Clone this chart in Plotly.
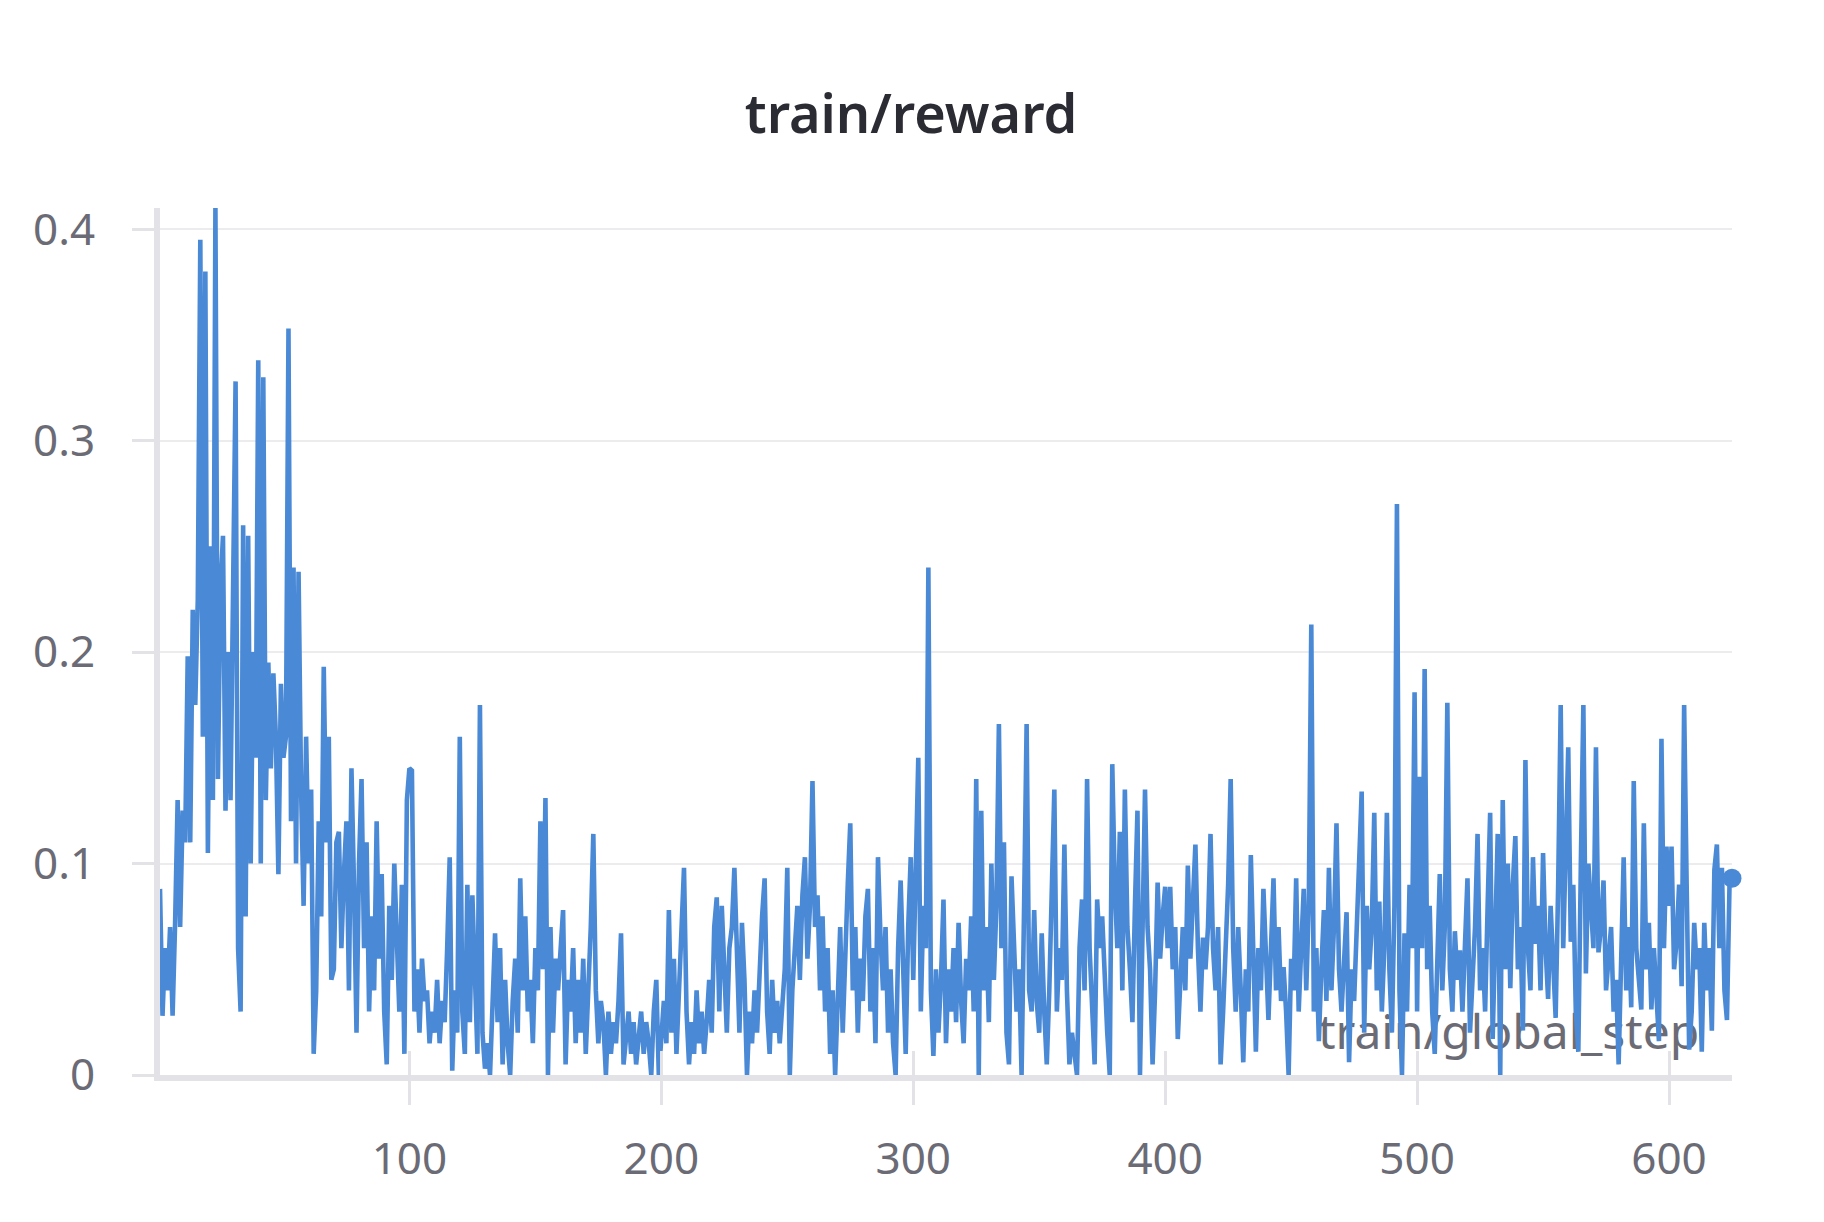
import plotly.graph_objects as go

REWARD_001_125 = [
    88, 28, 60, 40, 70, 28, 72, 130, 70, 125, 110, 198, 110, 220, 175, 225, 395, 160, 380, 105, 250, 130, 410, 140, 230,
    255, 125, 200, 130, 250, 328, 60, 30, 260, 75, 255, 100, 200, 150, 338, 100, 330, 130, 195, 145, 190, 160, 95, 185, 150,
    160, 353, 120, 240, 100, 238, 135, 80, 160, 100, 135, 10, 40, 120, 75, 193, 110, 160, 45, 50, 110, 115, 60, 95, 120,
    40, 145, 90, 20, 100, 140, 60, 110, 30, 75, 40, 120, 55, 95, 30, 5, 80, 45, 100, 60, 30, 90, 10, 130, 145,
    144, 30, 50, 20, 55, 35, 40, 15, 30, 20, 45, 15, 35, 25, 60, 103, 2, 40, 20, 160, 30, 10, 90, 25, 85,
]
REWARD_126_250 = [
    40, 10, 175, 20, 3, 15, 0, 40, 67, 25, 60, 5, 45, 15, 0, 35, 55, 20, 93, 40, 75, 30, 45, 15, 60,
    40, 120, 50, 131, 0, 70, 20, 55, 40, 60, 78, 5, 45, 30, 60, 15, 45, 20, 55, 10, 35, 70, 114, 40, 15,
    35, 25, 0, 30, 10, 25, 15, 35, 67, 5, 20, 30, 10, 25, 5, 20, 30, 10, 25, 15, 0, 30, 45, 0, 20,
    35, 15, 78, 20, 55, 10, 40, 60, 98, 30, 5, 25, 10, 40, 15, 30, 10, 25, 45, 20, 70, 84, 30, 80, 45,
    20, 60, 70, 98, 50, 20, 72, 45, 0, 30, 15, 40, 20, 55, 75, 93, 30, 10, 45, 20, 35, 15, 30, 50, 98,
]
REWARD_251_375 = [
    0, 40, 60, 80, 45, 85, 103, 55, 80, 139, 70, 85, 40, 75, 30, 60, 10, 40, 0, 45, 70, 20, 60, 90, 119,
    40, 70, 20, 55, 35, 75, 88, 30, 60, 15, 103, 65, 40, 70, 20, 50, 15, 0, 60, 92, 40, 10, 70, 103, 45,
    90, 150, 30, 80, 60, 240, 40, 9, 50, 20, 45, 83, 15, 50, 30, 60, 25, 72, 35, 15, 55, 40, 75, 30, 140,
    0, 125, 40, 70, 25, 100, 45, 80, 166, 60, 110, 20, 5, 94, 60, 30, 50, 0, 80, 166, 40, 30, 78, 35, 20,
    67, 30, 5, 40, 80, 135, 30, 60, 45, 109, 40, 5, 20, 10, 0, 60, 83, 40, 140, 60, 30, 5, 83, 60, 75,
]
REWARD_376_500 = [
    40, 20, 0, 147, 90, 60, 115, 40, 135, 70, 50, 25, 80, 125, 0, 60, 135, 70, 50, 5, 40, 91, 55, 75, 89,
    60, 89, 50, 70, 17, 45, 70, 40, 99, 55, 80, 109, 60, 30, 65, 50, 70, 114, 60, 40, 70, 5, 30, 60, 90,
    140, 60, 30, 70, 40, 6, 50, 30, 104, 45, 11, 60, 40, 88, 50, 26, 60, 93, 40, 70, 35, 51, 30, 0, 55,
    40, 93, 30, 60, 88, 40, 80, 213, 30, 60, 16, 50, 78, 35, 98, 40, 70, 119, 50, 30, 60, 77, 6, 50, 35,
    70, 90, 134, 20, 80, 50, 70, 124, 40, 82, 30, 60, 124, 50, 20, 80, 270, 40, 0, 67, 30, 90, 60, 181, 30,
]
REWARD_501_625 = [
    141, 60, 192, 50, 80, 30, 10, 60, 95, 40, 70, 176, 50, 30, 68, 45, 59, 30, 60, 93, 20, 50, 70, 114, 40,
    60, 30, 80, 124, 17, 60, 114, 0, 130, 50, 100, 41, 90, 113, 50, 70, 21, 149, 60, 40, 103, 62, 80, 40, 105,
    60, 36, 80, 50, 27, 90, 175, 60, 120, 155, 63, 90, 30, 11, 100, 175, 48, 100, 80, 60, 155, 58, 70, 92, 40,
    56, 70, 30, 45, 5, 60, 103, 40, 70, 32, 139, 60, 45, 31, 119, 50, 72, 31, 60, 40, 16, 159, 60, 108, 80,
    108, 50, 63, 90, 42, 175, 90, 12, 30, 72, 50, 60, 11, 72, 40, 60, 21, 97, 109, 60, 98, 40, 26, 89, 93,
]

X_TICKS = [100, 200, 300, 400, 500, 600]
Y_TICKS = [0, 0.1, 0.2, 0.3, 0.4]
Y_TICK_TEXT = ["0", "0.1", "0.2", "0.3", "0.4"]

reward = [v / 1000 for v in REWARD_001_125 + REWARD_126_250 + REWARD_251_375 + REWARD_376_500 + REWARD_501_625]
steps = list(range(1, len(reward) + 1))

BLUE = '#4a89d5'
GREY_TEXT = '#6b6b76'
AXIS_GREY = '#e3e3e7'

# page body adds an 8px margin, so the figure is 8px smaller and shifted back
W, H = 1816, 1214

fig = go.Figure()

# x axis title sits inside the plot, under the line
fig.add_trace(go.Scatter(
    x=[steps[-1] - 13], y=[0.018],
    mode='text', text=['train/global_step'],
    textposition='middle left',
    textfont=dict(family='Noto Sans', size=48, color=GREY_TEXT),
    hoverinfo='skip', showlegend=False,
))
fig.add_trace(go.Scatter(
    x=steps, y=reward,
    mode='lines',
    line=dict(color=BLUE, width=4.6),
    showlegend=False,
))
fig.add_trace(go.Scatter(
    x=[steps[-1]], y=[reward[-1]],
    mode='markers',
    marker=dict(color=BLUE, size=19),
    cliponaxis=False,
    showlegend=False,
))

fig.update_layout(
    width=W, height=H,
    margin=dict(l=152, r=92, t=200, b=147),
    paper_bgcolor='white',
    plot_bgcolor='white',
    font=dict(family='Noto Sans', size=44, color=GREY_TEXT),
    title=dict(
        text='train/reward',
        font=dict(family='Noto Sans', size=54, color='#2b2b33', weight=600),
        x=903 / W, xanchor='center', xref='container',
        y=1 - 106 / H, yref='container', yanchor='middle',
    ),
    xaxis=dict(
        range=[1, steps[-1]],
        tickvals=X_TICKS,
        showgrid=False, zeroline=False,
        showline=True, linecolor=AXIS_GREY, linewidth=6,
        ticks='outside', ticklen=24, tickwidth=3, tickcolor=AXIS_GREY,
        ticklabelstandoff=16,
        minor=dict(ticks='inside', tickvals=X_TICKS, ticklen=24, tickwidth=3,
                   tickcolor=AXIS_GREY, showgrid=False),
    ),
    yaxis=dict(
        range=[0, 0.41],
        tickvals=Y_TICKS, ticktext=Y_TICK_TEXT,
        showgrid=True, gridcolor='#ececef', gridwidth=2,
        zeroline=False,
        showline=True, linecolor=AXIS_GREY, linewidth=6,
        ticks='outside', ticklen=22, tickwidth=3, tickcolor=AXIS_GREY,
        ticklabelstandoff=28,
    ),
)

fig.write_html("out.html")
